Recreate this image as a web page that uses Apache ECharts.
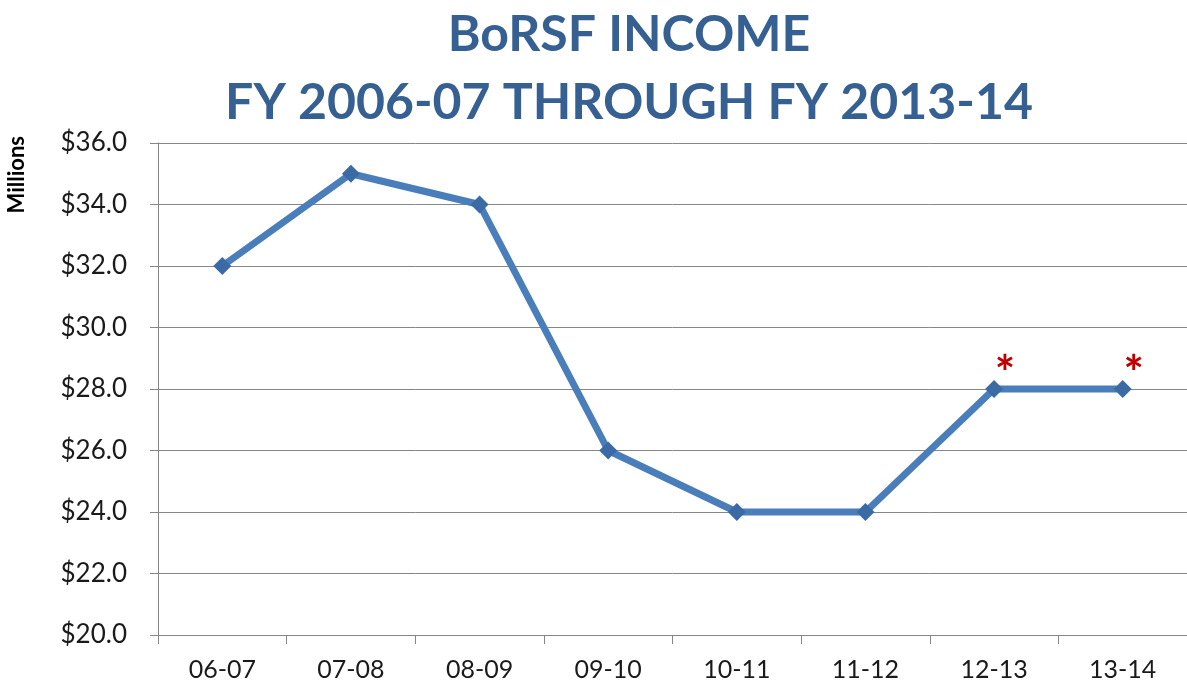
<!DOCTYPE html>
<html>
<head>
<meta charset="utf-8">
<style>
html,body{margin:0;padding:0;background:#fff;}
#chart{width:1187px;height:684px;}
</style>
<script src="https://cdn.jsdelivr.net/npm/echarts@6/dist/echarts.min.js"></script>
</head>
<body>
<div id="chart"></div>
<script>
const titleLines = ['BoRSF INCOME', 'FY 2006-07 THROUGH FY 2013-14'];
const categories = ['06-07', '07-08', '08-09', '09-10', '10-11', '11-12', '12-13', '13-14'];
const income = [32, 35, 34, 26, 24, 24, 28, 28];
const notes = ['', '', '', '', '', '', '*', '*'];
const yMin = 20, yMax = 36, yStep = 2;
const yAxisTitle = 'Millions';

const chart = echarts.init(document.getElementById('chart'));
const FONT = 'Lato';
chart.setOption({
  animation: false,
  backgroundColor: '#ffffff',
  title: {
    text: titleLines.join('\n'),
    left: 624, textAlign: 'center', top: -4,
    textStyle: { fontFamily: FONT, fontWeight: 'bold', fontSize: 50, color: '#376092', lineHeight: 68 }
  },
  graphic: [{
    type: 'text', left: 6, top: 136, rotation: Math.PI / 2,
    style: { text: yAxisTitle, fontFamily: FONT, fontWeight: 'bold', fontSize: 22, fill: '#000' }
  }],
  grid: { left: 158, right: -2, top: 143, bottom: 49, containLabel: false },
  xAxis: {
    type: 'category', data: categories, boundaryGap: true,
    axisLine: { lineStyle: { color: '#868686', width: 1 } },
    axisTick: { show: true, length: 9, alignWithLabel: false, lineStyle: { color: '#868686' } },
    axisLabel: { color: '#1a1a1a', fontFamily: FONT, fontSize: 25, margin: 22 }
  },
  yAxis: {
    type: 'value', min: yMin, max: yMax, interval: yStep,
    axisLine: { show: true, lineStyle: { color: '#868686', width: 1 } },
    axisTick: { show: true, length: 8, lineStyle: { color: '#868686' } },
    splitLine: { lineStyle: { color: '#868686', width: 1 } },
    axisLabel: { color: '#1a1a1a', fontFamily: FONT, fontSize: 26, margin: 31,
      formatter: v => '$' + v.toFixed(1) }
  },
  series: [{
    type: 'line',
    data: income.map((v, i) => ({ value: v, note: notes[i] })),
    symbol: 'diamond', symbolSize: 18,
    lineStyle: { color: '#4A7EBB', width: 7 },
    itemStyle: { color: '#3B6AA5' },
    label: {
      show: true, position: 'inside', offset: [11, -14],
      formatter: p => notes[p.dataIndex],
      color: '#C00000', fontFamily: FONT, fontWeight: 'bold', fontSize: 48
    }
  }]
});
</script>
</body>
</html>
